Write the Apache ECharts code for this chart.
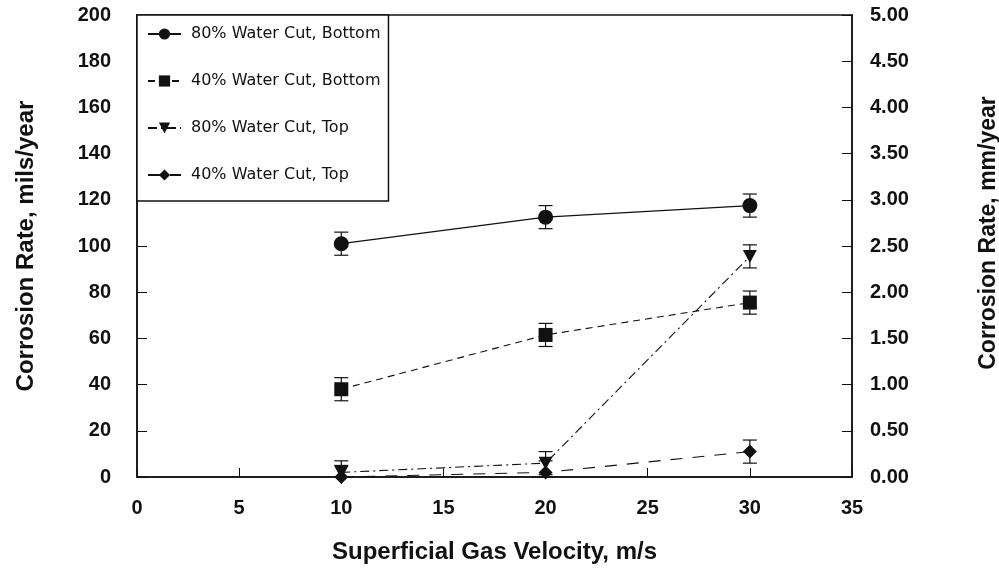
<!DOCTYPE html>
<html>
<head>
<meta charset="utf-8">
<script src="https://cdn.jsdelivr.net/npm/echarts@6/dist/echarts.min.js"></script>
<style>
  html, body { margin: 0; padding: 0; background: #fff; }
  #chart { width: 999px; height: 570px; }
</style>
</head>
<body>
<div id="chart"></div>
<script>
// gas velocity, m/s
var velocity = [10, 20, 30];
// corrosion rate, mils/year
var wc80Bottom = [101, 112.5, 117.5];
var wc40Bottom = [38, 61.5, 75.5];
var wc80Top = [2, 6, 95.5];
var wc40Top = [0, 2, 11];
// error bar half width, mils/year
var errBar = [5, 5, 5];

var seriesNames = ['80% Water Cut, Bottom', '40% Water Cut, Bottom', '80% Water Cut, Top', '40% Water Cut, Top'];
var rightTicks = ['0.00', '0.50', '1.00', '1.50', '2.00', '2.50', '3.00', '3.50', '4.00', '4.50', '5.00'];

var font = 'Liberation Sans, Arial, sans-serif';
var ink = '#111';

function pts(vals) {
    return velocity.map(function (v, i) { return [v, vals[i]]; });
}
function bars(vals) {
    return velocity.map(function (v, i) {
        return [v, Math.max(0, vals[i] - errBar[i]), vals[i] + errBar[i]];
    });
}

var errData = [].concat(bars(wc80Bottom), bars(wc40Bottom), bars(wc80Top), bars(wc40Top));

var chart = echarts.init(document.getElementById('chart'));
var option = {
    animation: false,
    backgroundColor: '#fff',
    grid: {
        left: 137,
        right: 147,
        top: 15,
        bottom: 93,
        outerBoundsMode: 'none',
        show: true,
        borderColor: ink,
        borderWidth: 1.5
    },
    legend: {
        orient: 'vertical',
        left: 137,
        top: 15,
        data: seriesNames,
        backgroundColor: '#fff',
        borderColor: ink,
        borderWidth: 1.5,
        padding: [11, 8, 18, 10],
        itemGap: 31,
        itemWidth: 33,
        itemHeight: 14,
        textStyle: { fontFamily: 'DejaVu Sans, sans-serif', fontSize: 16, color: ink, padding: [0, 0, 0, 5] }
    },
    xAxis: {
        type: 'value',
        min: 0,
        max: 35,
        interval: 5,
        name: 'Superficial Gas Velocity, m/s',
        nameLocation: 'middle',
        nameGap: 63,
        nameTextStyle: { fontFamily: font, fontSize: 24, fontWeight: 'bold', color: ink },
        axisLine: { lineStyle: { color: ink, width: 1.5 } },
        axisTick: { inside: true, length: 9, lineStyle: { color: ink } },
        axisLabel: { margin: 21, fontFamily: font, fontSize: 20, fontWeight: 'bold', color: ink },
        splitLine: { show: false }
    },
    yAxis: [
        {
            type: 'value',
            min: 0,
            max: 200,
            interval: 20,
            name: 'Corrosion Rate, mils/year',
            nameLocation: 'middle',
            nameRotate: 90,
            nameGap: 99,
            nameTextStyle: { fontFamily: font, fontSize: 24, fontWeight: 'bold', color: ink },
            axisLine: { show: true, lineStyle: { color: ink, width: 1.5 } },
            axisTick: { show: true, inside: true, length: 10, lineStyle: { color: ink } },
            axisLabel: { margin: 26, fontFamily: font, fontSize: 20, fontWeight: 'bold', color: ink },
            splitLine: { show: false }
        },
        {
            type: 'value',
            min: 0,
            max: 5,
            interval: 0.5,
            position: 'right',
            name: 'Corrosion Rate, mm/year',
            nameLocation: 'middle',
            nameRotate: 90,
            nameGap: 125,
            nameTextStyle: { fontFamily: font, fontSize: 23, fontWeight: 'bold', color: ink, padding: [0, 0, 0, 26] },
            axisLine: { show: true, lineStyle: { color: ink, width: 1.5 } },
            axisTick: { show: true, inside: true, length: 10, lineStyle: { color: ink } },
            axisLabel: {
                margin: 18, fontFamily: font, fontSize: 20, fontWeight: 'bold', color: ink,
                formatter: function (v) { return rightTicks[Math.round(v / 0.5)]; }
            },
            splitLine: { show: false }
        }
    ],
    series: [
        {
            type: 'custom',
            name: 'error',
            z: 1,
            clip: false,
            renderItem: function (params, api) {
                var lo = api.coord([api.value(0), api.value(1)]);
                var hi = api.coord([api.value(0), api.value(2)]);
                var w = 7;
                var st = { stroke: ink, lineWidth: 1.2 };
                return {
                    type: 'group',
                    children: [
                        { type: 'line', shape: { x1: hi[0], y1: hi[1], x2: lo[0], y2: lo[1] }, style: st },
                        { type: 'line', shape: { x1: hi[0] - w, y1: hi[1], x2: hi[0] + w, y2: hi[1] }, style: st },
                        { type: 'line', shape: { x1: lo[0] - w, y1: lo[1], x2: lo[0] + w, y2: lo[1] }, style: st }
                    ]
                };
            },
            encode: { x: 0, y: [1, 2] },
            data: errData
        },
        {
            name: seriesNames[0],
            type: 'line',
            z: 3,
            symbol: 'circle',
            symbolSize: 15,
            clip: false,
            itemStyle: { color: ink },
            lineStyle: { color: ink, width: 1.2, type: 'solid' },
            data: pts(wc80Bottom)
        },
        {
            name: seriesNames[1],
            type: 'line',
            z: 3,
            symbol: 'rect',
            symbolSize: 14,
            clip: false,
            itemStyle: { color: ink },
            lineStyle: { color: ink, width: 1.1, type: [7, 5] },
            data: pts(wc40Bottom)
        },
        {
            name: seriesNames[2],
            type: 'line',
            z: 3,
            symbol: 'triangle',
            symbolRotate: 180,
            symbolSize: [14, 13],
            clip: false,
            itemStyle: { color: ink },
            lineStyle: { color: ink, width: 1.1, type: [9, 4, 2, 4] },
            data: pts(wc80Top)
        },
        {
            name: seriesNames[3],
            type: 'line',
            z: 3,
            symbol: 'diamond',
            symbolSize: 14,
            clip: false,
            itemStyle: { color: ink },
            lineStyle: { color: ink, width: 1.1, type: [12, 10] },
            data: pts(wc40Top)
        }
    ]
};
chart.setOption(option);
</script>
</body>
</html>
